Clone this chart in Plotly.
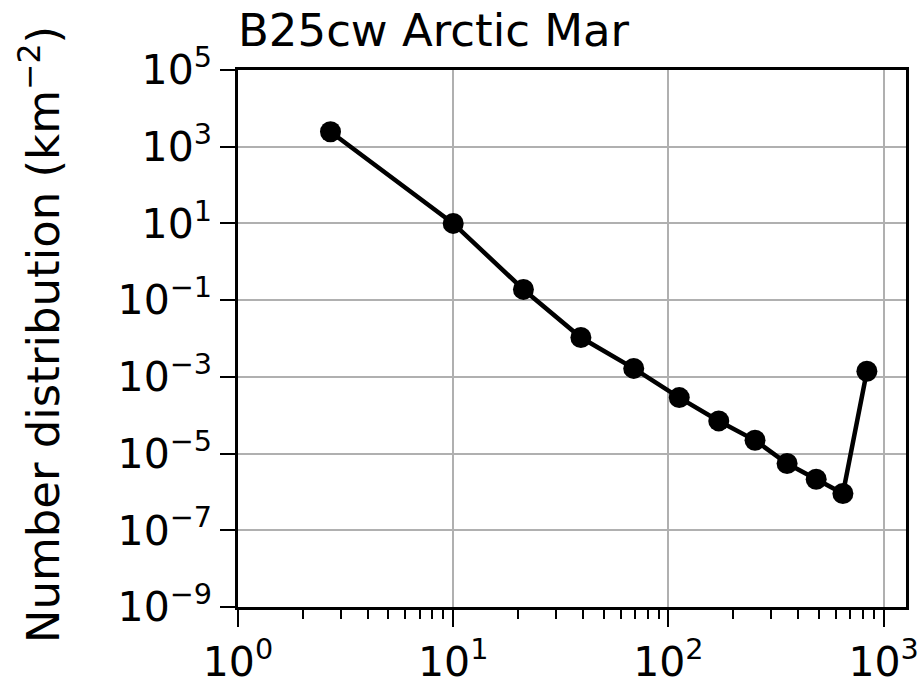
import plotly.graph_objects as go

# Data
size_km = [2.69, 10.0, 21.2, 39.2, 69.0, 112.3, 171.4, 252.6, 356.0, 486.0, 647.0, 836.0]
number_dist = [2455, 10.0, 0.19, 0.0106, 0.00166, 2.88e-4, 7.1e-5, 2.22e-5, 5.5e-6, 2.14e-6, 9.1e-7, 1.4e-3]

x_tickvals = [1, 10, 100, 1000]
x_ticktext = ["10<sup>0</sup>", "10<sup>1</sup>", "10<sup>2</sup>", "10<sup>3</sup>"]
y_tickvals = [1e5, 1e3, 1e1, 1e-1, 1e-3, 1e-5, 1e-7, 1e-9]
y_ticktext = ["10<sup>5</sup>", "10<sup>3</sup>", "10<sup>1</sup>", "10<sup>−1</sup>",
              "10<sup>−3</sup>", "10<sup>−5</sup>", "10<sup>−7</sup>", "10<sup>−9</sup>"]

title_text = "B25cw Arctic Mar"
ylabel_text = "Number distribution (km<sup>−2</sup>)"

FONT = "DejaVu Sans"

fig = go.Figure()
fig.add_trace(go.Scatter(
    x=size_km, y=number_dist, mode="lines+markers",
    line=dict(color="black", width=4.5),
    marker=dict(color="black", size=21),
    showlegend=False,
))

fig.update_layout(
    width=920, height=697,
    margin=dict(l=238, r=14, t=70, b=90, autoexpand=False),
    paper_bgcolor="white", plot_bgcolor="white",
    font=dict(family=FONT, size=42, color="black"),
    title=dict(text=title_text, x=0, xref="paper", xanchor="left",
               y=1 - 30 / 697, yref="container", yanchor="middle",
               font=dict(family=FONT, size=45, color="black")),
)

fig.update_xaxes(
    type="log", range=[0, 3.104], automargin=False,
    tickvals=x_tickvals, ticktext=x_ticktext,
    ticks="outside", ticklen=17, tickwidth=2, tickcolor="black",
    showline=True, linecolor="black", linewidth=2.5, mirror=True,
    showgrid=True, gridcolor="#b0b0b0", gridwidth=1.5,
    zeroline=False,
    minor=dict(ticks="outside", ticklen=9, tickwidth=1.5, tickcolor="black",
               dtick="D1", showgrid=False),
    tickfont=dict(family=FONT, size=41, color="black"),
)
fig.update_yaxes(
    type="log", range=[-9, 5], automargin=False,
    tickvals=y_tickvals, ticktext=y_ticktext,
    ticks="outside", ticklen=15, tickwidth=2, tickcolor="black",
    showline=True, linecolor="black", linewidth=2.5, mirror=True,
    showgrid=True, gridcolor="#b0b0b0", gridwidth=1.5,
    zeroline=False,
    tickfont=dict(family=FONT, size=41, color="black"),
)

fig.add_annotation(
    text=ylabel_text, textangle=-90,
    xref="paper", yref="paper", x=(40 - 238) / 668, y=0.506,
    xanchor="center", yanchor="middle", showarrow=False,
    font=dict(family=FONT, size=45, color="black"),
)

fig.write_html("out.html")
